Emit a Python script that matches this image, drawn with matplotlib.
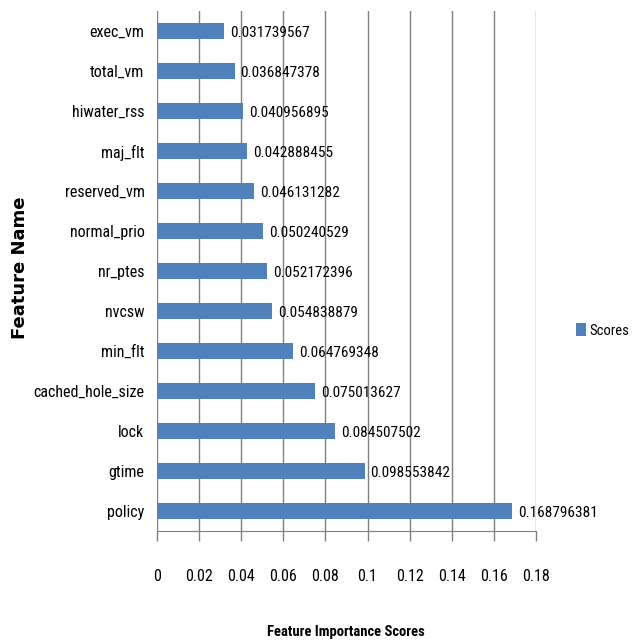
import matplotlib
matplotlib.use("Agg")
import matplotlib.pyplot as plt

plt.rcParams['font.family'] = ['Roboto Condensed', 'Open Sans', 'DejaVu Sans']

# feature importance scores, listed top to bottom as drawn
features = ["exec_vm", "total_vm", "hiwater_rss", "maj_flt", "reserved_vm",
            "normal_prio", "nr_ptes", "nvcsw", "min_flt", "cached_hole_size",
            "lock", "gtime", "policy"]
scores = [0.031739567, 0.036847378, 0.040956895, 0.042888455, 0.046131282,
          0.050240529, 0.052172396, 0.054838879, 0.064769348, 0.075013627,
          0.084507502, 0.098553842, 0.168796381]
xticks = [0, 0.02, 0.04, 0.06, 0.08, 0.1, 0.12, 0.14, 0.16, 0.18]
xtick_labels = ["0", "0.02", "0.04", "0.06", "0.08", "0.1", "0.12", "0.14", "0.16", "0.18"]

fig = plt.figure(figsize=(6.32, 6.4), dpi=100)
ax = fig.add_axes([0.2484, 0.1703, 0.5997, 0.8125])

pos = list(range(len(features)))
bars = ax.barh(pos, scores, height=0.38, color="#4F81BD", label="Scores", zorder=3)

for p, s in zip(pos, scores):
    ax.text(s + 0.0028, p + 0.05, str(s), va="center", ha="left", fontsize=11, zorder=4)

ax.set_ylim(len(features) - 0.5, -0.5)
ax.set_xlim(0, 0.18)
ax.set_yticks(pos)
ax.set_yticklabels(features, fontsize=11.5)
ax.set_xticks(xticks)
ax.set_xticklabels(xtick_labels, fontsize=11.5)

ax.tick_params(axis="y", length=0, pad=9)
ax.tick_params(axis="x", direction="out", length=7, width=1, color="#808080", pad=20)

ax.grid(axis="x", color="#808080", linewidth=1, zorder=0)
for side in ["top", "right", "left"]:
    ax.spines[side].set_visible(False)
ax.spines["bottom"].set_color("#808080")

fig.text(0.031, 0.581, "Feature Name", rotation=90, ha="center", va="center",
         fontsize=13, fontweight="bold", family="DejaVu Sans")
fig.text(0.547, 0.012, "Feature Importance Scores", ha="center", va="center",
         fontsize=10.5, fontweight="bold")

fig.legend(handles=[bars], labels=["Scores"], loc="center left",
           bbox_to_anchor=(0.912, 0.484), frameon=False, fontsize=10.5,
           handlelength=0.65, handleheight=1.0, handletextpad=0.25,
           borderpad=0, borderaxespad=0)

fig.savefig("out.png", dpi=100)
